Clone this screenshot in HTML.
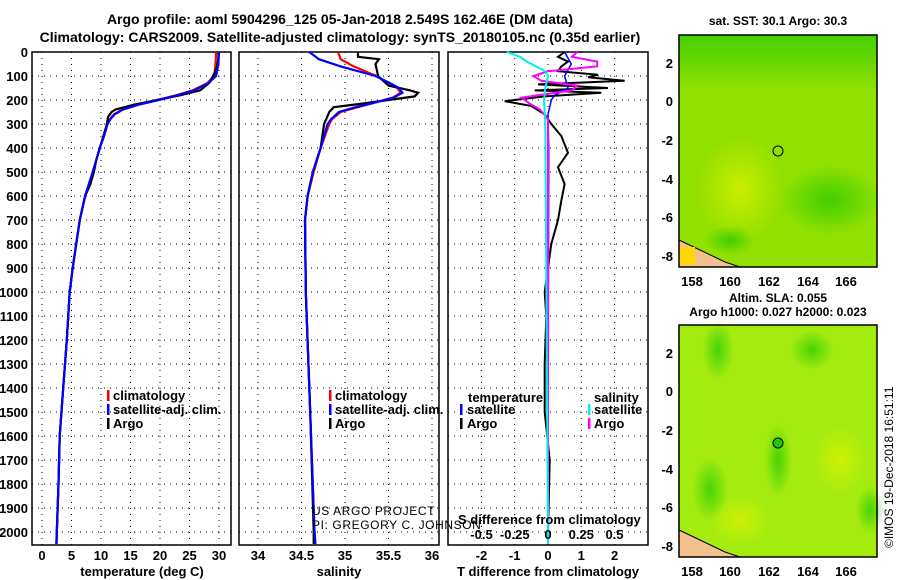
<!DOCTYPE html>
<html><head><meta charset="utf-8"><style>
body{margin:0;background:#fff;width:900px;height:580px;overflow:hidden}
svg{display:block;font-family:"Liberation Sans",sans-serif}
.b{font-weight:bold}
</style></head><body>
<svg id="s" width="900" height="580" viewBox="0 0 900 580">
<text class="b" x="340" y="24" font-size="14" text-anchor="middle">Argo profile: aoml 5904296_125 05-Jan-2018 2.549S 162.46E (DM data)</text>
<text class="b" x="340" y="42" font-size="14" text-anchor="middle">Climatology: CARS2009. Satellite-adjusted climatology: synTS_20180105.nc (0.35d earlier)</text>
</svg>
<script>
// ---- data ----
const depthTicks=[0,100,200,300,400,500,600,700,800,900,1000,1100,1200,1300,1400,1500,1600,1700,1800,1900,2000];
const tempTicks=[0,5,10,15,20,25,30];
const salTicks=[34,34.5,35,35.5,36];
const tdiffTicks=[-2,-1,0,1,2];
const sdiffTicks=[-0.5,-0.25,0,0.25,0.5];
const tArgoD=[0,20,60,100,130,160,180,200,220,240,250,270,300,350,400,450,500,550,600,700,800,900,1000,1200,1400,1600,1800,2000,2050];
const tArgo=[29.9,29.9,29.7,29.0,28.3,26.8,23.5,19.5,15.5,12.4,11.8,11.2,11.0,10.4,9.8,9.2,8.8,8.2,7.3,6.4,5.8,5.2,4.7,4.2,3.6,3.0,2.8,2.5,2.45];
const tClimD=[0,50,100,130,160,180,200,220,240,260,280,300,350,400,500,600,700,800,900,1000,1200,1400,1600,1800,2000,2050];
const tClim=[29.5,29.4,29.2,28.0,25.5,22.8,19.6,16.2,13.6,12.2,11.5,11.1,10.5,9.8,8.6,7.3,6.4,5.8,5.2,4.7,4.2,3.6,3.0,2.8,2.5,2.4];
const tSat=[30.0,29.9,29.5,28.2,25.8,23.0,19.8,16.3,13.7,12.3,11.6,11.1,10.5,9.8,8.6,7.3,6.4,5.8,5.2,4.7,4.2,3.6,3.0,2.8,2.5,2.45];
const sArgoD=[0,20,30,50,100,140,160,170,185,200,215,230,250,300,400,500,600,700,1000,1500,2000,2050];
const sArgo=[35.15,35.15,35.39,35.35,35.38,35.5,35.75,35.84,35.8,35.5,35.2,34.87,34.82,34.76,34.72,34.63,34.57,34.54,34.55,34.6,34.64,34.64];
const sClimD=[0,30,60,100,130,150,170,190,200,215,230,250,280,300,400,500,600,700,1000,1500,2000,2050];
const sClim=[34.92,34.95,35.1,35.36,35.5,35.6,35.64,35.55,35.45,35.3,35.15,34.95,34.85,34.82,34.72,34.64,34.57,34.54,34.55,34.6,34.65,34.66];
const sSat=[34.59,34.7,34.95,35.35,35.52,35.62,35.66,35.56,35.45,35.3,35.12,34.93,34.84,34.8,34.72,34.63,34.57,34.54,34.55,34.6,34.65,34.66];
const tdD=[0,20,40,60,80,95,105,120,135,150,160,170,185,205,225,260,300,350,420,480,550,620,700,800,900,1000,1100,1300,1500,1700,2000,2050];
const tdArgo=[0.5,0.3,0.6,0.4,0.3,1.5,1.2,2.3,-0.3,1.8,-0.4,1.6,-0.1,-1.3,-0.5,-0.1,0.1,0.4,0.6,0.3,0.5,0.4,0.3,0.1,0,-0.1,-0.05,-0.1,-0.1,0.05,0,0];
const tdSatD=[0,50,100,150,180,200,260,400,2050];
const tdSat=[0.5,0.7,0.5,0.6,0.2,0.1,0,0.02,0];
const sdArgoD=[0,20,40,60,80,100,120,140,160,190,214,240,280,400,2050];
const sdArgo=[0.22,0.18,0.37,0.37,0,-0.11,-0.05,0.22,0.18,-0.2,-0.14,-0.06,0,0,0];
const sdSatD=[0,20,40,60,80,100,150,200,300,2050];
const sdSat=[-0.31,-0.21,-0.16,-0.09,-0.02,0,-0.02,-0.03,-0.02,0];

const S=document.getElementById('s');const NS='http://www.w3.org/2000/svg';
function mk(t,a,txt){const e=document.createElementNS(NS,t);for(const k in a)e.setAttribute(k,a[k]);if(txt!==undefined)e.textContent=txt;S.appendChild(e);return e;}
const Y0=52,PY=0.24,BOT=545;
const yD=d=>Y0+d*PY;
function panel(x0,x1,name,xs,ticks,fmt,showY,lbl){
  const r=mk('rect',{x:x0,y:Y0,width:x1-x0,height:BOT-Y0,fill:'none',stroke:'#000','stroke-width':1.5});
  
  depthTicks.forEach(d=>{const l=mk('line',{x1:x0,x2:x1,y1:yD(d),y2:yD(d),stroke:'#000','stroke-dasharray':'1,5','stroke-width':1});
    
    if(showY){const t=mk('text',{x:28,y:yD(d)+5,'font-size':13,'text-anchor':'end','class':'b'},d);
      }});
  ticks.forEach(v=>{const x=xs(v);const l=mk('line',{x1:x,x2:x,y1:Y0,y2:BOT,stroke:'#000','stroke-dasharray':'1,5'});
    
    if(lbl){const t=mk('text',{x:x,y:560,'font-size':13,'text-anchor':'middle','class':'b'},fmt(v));
      }});
}
function line(xs,ds,vs,col,name,w){
  const p=mk('polyline',{points:ds.map((d,i)=>xs(vs[i]).toFixed(1)+','+yD(d).toFixed(1)).join(' '),fill:'none',stroke:col,'stroke-width':w||2.2});
  
}
const xT=v=>42+v*5.9;
panel(32,231,'temperature-panel',xT,tempTicks,v=>v,true,true);
line(xT,tClimD,tClim,'#f00','temperature-climatology-line');
line(xT,tArgoD,tArgo,'#000','temperature-argo-line');
line(xT,tClimD,tSat,'#00f','temperature-satellite-line');
const xS=v=>258+(v-34)*87;
panel(239,439,'salinity-panel',xS,salTicks,v=>v,false,true);
line(xS,sClimD,sClim,'#f00','salinity-climatology-line');
line(xS,sArgoD,sArgo,'#000','salinity-argo-line');
line(xS,sClimD,sSat,'#00f','salinity-satellite-line');
const xTD=v=>548+v*33.3, xSD=v=>548+v*133;
panel(448,648,'difference-panel',xTD,tdiffTicks,v=>v,false,true);
line(xTD,tdD,tdArgo,'#000','tdiff-argo-line',2);
line(xTD,tdSatD,tdSat,'#00f','tdiff-satellite-line',1.5);
line(xSD,sdArgoD,sdArgo,'#f0f','sdiff-argo-line',2);
line(xSD,sdSatD,sdSat,'#0ee','sdiff-satellite-line',2);
sdiffTicks.forEach(v=>{const t=mk('text',{x:xSD(v),y:539,'font-size':13,'text-anchor':'middle','class':'b'},v);
  });
</script>
<svg width="900" height="580" style="position:absolute;left:0;top:0" font-family="Liberation Sans, sans-serif">
<g font-weight="bold" font-size="13">
<text x="142" y="576" text-anchor="middle">temperature (deg C)</text>
<text x="339" y="576" text-anchor="middle">salinity</text>
<text x="548" y="576" text-anchor="middle">T difference from climatology</text>
<text x="458" y="524">S difference from climatology</text>
<g>
<rect x="107" y="390" width="2.5" height="11" fill="#f00"/><text x="113" y="400">climatology</text>
<rect x="107" y="404" width="2.5" height="11" fill="#00f"/><text x="113" y="414">satellite-adj. clim.</text>
<rect x="107" y="418" width="2.5" height="11" fill="#000"/><text x="113" y="428">Argo</text></g>
<g>
<rect x="329" y="390" width="2.5" height="11" fill="#f00"/><text x="335" y="400">climatology</text>
<rect x="329" y="404" width="2.5" height="11" fill="#00f"/><text x="335" y="414">satellite-adj. clim.</text>
<rect x="329" y="418" width="2.5" height="11" fill="#000"/><text x="335" y="428">Argo</text></g>
<g>
<text x="468" y="402">temperature</text>
<rect x="460" y="404" width="2.5" height="11" fill="#00f"/><text x="467" y="414">satellite</text>
<rect x="460" y="418" width="2.5" height="11" fill="#000"/><text x="467" y="428">Argo</text>
<text x="594" y="402">salinity</text>
<rect x="588" y="404" width="2.5" height="11" fill="#0ee"/><text x="594" y="414">satellite</text>
<rect x="588" y="418" width="2.5" height="11" fill="#f0f"/><text x="594" y="428">Argo</text></g>
</g>
<text x="312" y="515" font-size="12" letter-spacing="0.6">US ARGO PROJECT</text>
<text x="312" y="529" font-size="12" letter-spacing="0.6">PI: GREGORY C. JOHNSON</text>
<defs>
<radialGradient id="g1" cx="50%" cy="50%" r="50%"><stop offset="0" stop-color="#20c800" stop-opacity="0.7"/><stop offset="1" stop-color="#20c800" stop-opacity="0"/></radialGradient>
<radialGradient id="g2" cx="50%" cy="50%" r="50%"><stop offset="0" stop-color="#d8f000" stop-opacity="0.8"/><stop offset="1" stop-color="#d8f000" stop-opacity="0"/></radialGradient>
<linearGradient id="gt" x1="0" y1="0" x2="0" y2="1"><stop offset="0" stop-color="#30cc00" stop-opacity="0.8"/><stop offset="1" stop-color="#30cc00" stop-opacity="0"/></linearGradient>
</defs>
<g>
<text x="778" y="25" font-size="12" font-weight="bold" text-anchor="middle">sat. SST: 30.1 Argo: 30.3</text>
<rect x="679" y="35" width="198" height="232" fill="#90e000"/>
<rect x="679" y="35" width="198" height="55" fill="url(#gt)"/>
<ellipse cx="830" cy="200" rx="50" ry="35" fill="url(#g1)"/>
<ellipse cx="740" cy="190" rx="45" ry="55" fill="url(#g2)"/>
<ellipse cx="730" cy="240" rx="25" ry="15" fill="url(#g1)"/>
<path d="M679 240 L700 250 L725 262 L740 267 L679 267Z" fill="#f4c090" stroke="#000"/>
<rect x="679" y="247" width="16" height="18" fill="#ffd800"/>
<circle cx="778" cy="151" r="5" fill="none" stroke="#000"/>
<rect x="679" y="35" width="198" height="232" fill="none" stroke="#000" stroke-width="1.5"/>
</g>
<g>
<text x="778" y="302" font-size="12" font-weight="bold" text-anchor="middle">Altim. SLA: 0.055</text>
<text x="778" y="316" font-size="12" font-weight="bold" text-anchor="middle">Argo h1000: 0.027 h2000: 0.023</text>
<rect x="679" y="325" width="198" height="232" fill="#a4ec10"/>
<ellipse cx="718" cy="350" rx="16" ry="30" fill="url(#g1)"/>
<ellipse cx="812" cy="350" rx="22" ry="20" fill="url(#g1)"/>
<ellipse cx="710" cy="490" rx="18" ry="32" fill="url(#g1)"/>
<ellipse cx="778" cy="460" rx="14" ry="38" fill="url(#g1)"/>
<ellipse cx="870" cy="510" rx="14" ry="24" fill="url(#g1)"/>
<ellipse cx="840" cy="460" rx="28" ry="35" fill="url(#g2)"/>
<ellipse cx="740" cy="520" rx="30" ry="25" fill="url(#g2)"/>
<path d="M679 530 L700 540 L725 552 L740 557 L679 557Z" fill="#f4c090" stroke="#000"/>
<circle cx="778" cy="443" r="5" fill="#20c800" stroke="#000"/>
<rect x="679" y="325" width="198" height="232" fill="none" stroke="#000" stroke-width="1.5"/>
</g>
<text transform="translate(893,548) rotate(-90)" font-size="12">©IMOS 19-Dec-2018 16:51:11</text>
<g font-size="13" font-weight="bold" text-anchor="middle">
<text x="692" y="286">158</text><text x="730" y="286">160</text><text x="769" y="286">162</text><text x="808" y="286">164</text><text x="846" y="286">166</text>
<text x="692" y="576">158</text><text x="730" y="576">160</text><text x="769" y="576">162</text><text x="808" y="576">164</text><text x="846" y="576">166</text>
</g>
<g font-size="13" font-weight="bold" text-anchor="end">
<text x="673" y="68">2</text><text x="673" y="106">0</text><text x="673" y="145">-2</text><text x="673" y="184">-4</text><text x="673" y="222">-6</text><text x="673" y="261">-8</text>
<text x="673" y="358">2</text><text x="673" y="396">0</text><text x="673" y="435">-2</text><text x="673" y="474">-4</text><text x="673" y="512">-6</text><text x="673" y="551">-8</text>
</g>
</svg>
</body></html>
